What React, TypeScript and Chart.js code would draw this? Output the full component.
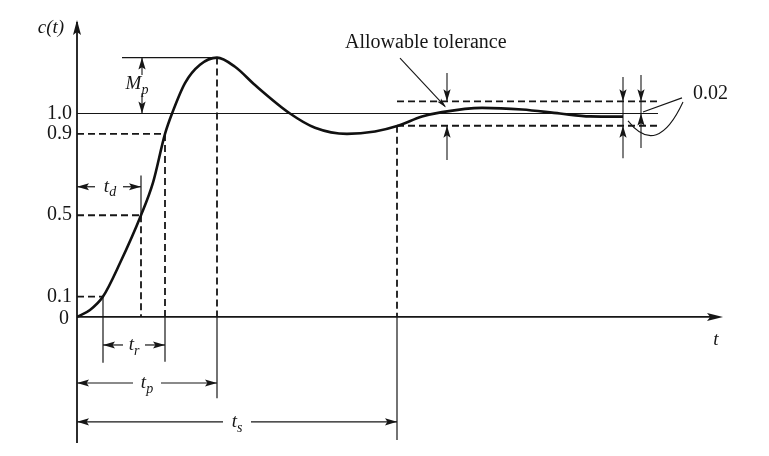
import React, { useEffect, useRef } from 'react';
import { Chart, registerables } from 'chart.js';
Chart.register(...registerables);

// ---- data ----
const TIME = [0, 0.26, 0.52, 0.86, 1.28, 1.52, 1.76, 1.9, 2.16, 2.46, 2.8, 3.16, 3.56, 4.26, 4.76, 5.4, 5.96, 6.42, 6.9, 7.3, 8.1, 8.9, 9.66, 10.26, 10.92];
const RESPONSE = [0, 0.034, 0.1, 0.265, 0.5, 0.66, 0.9, 1.0, 1.15, 1.24, 1.275, 1.23, 1.14, 1.0, 0.93, 0.9, 0.912, 0.94, 0.985, 1.007, 1.028, 1.02, 1.0, 0.986, 0.985];
const TICK_VALUES = [1.0, 0.9, 0.5, 0.1, 0];
const TICK_LABELS = ['1.0', '0.9', '0.5', '0.1', '0'];
const T_10 = 0.52;   // time at 10 %
const T_50 = 1.28;   // delay time
const T_90 = 1.76;   // time at 90 %
const T_PEAK = 2.8;
const PEAK = 1.275;
const T_SETTLE = 6.4;
const T_END = 10.92;
const BAND_HI = 1.06;
const BAND_LO = 0.94;
const TOL_LABEL = '0.02';
const TOL_TEXT = 'Allowable tolerance';

const SERIF = "'Liberation Serif', 'DejaVu Serif', serif";
const INK = '#161616';

const guides = {
  id: 'guides',
  beforeDatasetsDraw(chart: any) {
    const ctx = chart.ctx;
    const xs = chart.scales.x;
    const ys = chart.scales.y;
    const X = (t: number) => xs.getPixelForValue(t);
    const Y = (c: number) => ys.getPixelForValue(c);
    const line = (t1: number, c1: number, t2: number, c2: number, w = 1.2, dash: number[] = []) => {
      ctx.save();
      ctx.strokeStyle = INK;
      ctx.lineWidth = w;
      ctx.setLineDash(dash);
      ctx.beginPath();
      ctx.moveTo(X(t1), Y(c1));
      ctx.lineTo(X(t2), Y(c2));
      ctx.stroke();
      ctx.restore();
    };
    const head = (t: number, c: number, dx: number, dy: number, len = 12, half = 3.6) => {
      const x = X(t), y = Y(c);
      const px = -dy, py = dx;
      ctx.save();
      ctx.fillStyle = INK;
      ctx.beginPath();
      ctx.moveTo(x, y);
      ctx.lineTo(x - dx * len + px * half, y - dy * len + py * half);
      ctx.lineTo(x - dx * len * 0.8, y - dy * len * 0.8);
      ctx.lineTo(x - dx * len - px * half, y - dy * len - py * half);
      ctx.closePath();
      ctx.fill();
      ctx.restore();
    };
    const DASH = [7, 4];

    ctx.save();
    // axes
    line(0, ys.min, 0, ys.max - 0.01, 1.8);
    head(0, ys.max, 0, -1, 15, 4);
    line(0, 0, 12.8, 0, 1.8);
    head(12.92, 0, 1, 0, 16, 4);

    // steady state level
    line(0, 1.0, 11.62, 1.0, 1.1);

    // dashed level guides
    line(0, 0.9, T_90, 0.9, 1.8, DASH);
    line(0, 0.5, T_50, 0.5, 1.8, DASH);
    line(0, 0.1, T_10, 0.1, 1.8, DASH);

    // verticals
    line(T_10, 0.1, T_10, -0.226, 1.2);
    line(T_50, 0.695, T_50, 0.5, 1.2);
    line(T_50, 0.5, T_50, 0, 1.8, DASH);
    line(T_90, 0.9, T_90, 0, 1.8, DASH);
    line(T_90, 0, T_90, -0.22, 1.2);
    line(T_PEAK, PEAK, T_PEAK, 0, 1.8, DASH);
    line(T_PEAK, 0, T_PEAK, -0.4, 1.2);
    line(T_SETTLE, BAND_LO, T_SETTLE, 0, 1.8, DASH);
    line(T_SETTLE, 0, T_SETTLE, -0.605, 1.2);

    // tolerance band
    line(T_SETTLE, BAND_HI, 11.6, BAND_HI, 1.8, DASH);
    line(T_SETTLE, BAND_LO, 11.6, BAND_LO, 1.8, DASH);

    // peak overshoot
    line(0.9, PEAK, T_PEAK, PEAK, 1.1);
    line(1.3, 1.19, 1.3, PEAK, 1.1);
    head(1.3, PEAK, 0, -1);
    line(1.3, 1.1, 1.3, 1.0, 1.1);
    head(1.3, 1.0, 0, 1);

    // dimension arrows with label gap
    const dims: [number, number, number, string][] = [
      [0, T_50, 0.64, 'd'],
      [T_10, T_90, -0.138, 'r'],
      [0, T_PEAK, -0.325, 'p'],
      [0, T_SETTLE, -0.516, 's'],
    ];
    const dt = (px: number) => px / 50;
    dims.forEach(([a, b, c, s]) => {
      const mid = (a + b) / 2;
      const g = s === 'r' ? dt(11) : dt(14);
      line(a, c, mid - g, c, 1.2);
      line(mid + g, c, b, c, 1.2);
      head(a, c, -1, 0);
      head(b, c, 1, 0);
    });

    // allowable tolerance arrows
    line(7.4, 1.2, 7.4, BAND_HI, 1.1);
    head(7.4, BAND_HI, 0, 1);
    line(7.4, 0.772, 7.4, BAND_LO, 1.1);
    head(7.4, BAND_LO, 0, -1);
    line(6.46, 1.273, 7.36, 1.035, 1.1);
    head(7.38, 1.03, 0.68, 0.73, 10, 2.5);

    // right arrows
    line(T_END, 1.18, T_END, 0.78, 1.1);
    head(T_END, BAND_HI, 0, 1);
    head(T_END, BAND_LO, 0, -1);
    line(11.28, 1.19, 11.28, 0.83, 1.1);
    head(11.28, BAND_HI, 0, 1);
    head(11.28, 1.0, 0, -1);

    // 0.02 leaders
    line(12.1, 1.077, 11.32, 1.008, 1.1);
    ctx.strokeStyle = INK;
    ctx.lineWidth = 1.1;
    ctx.beginPath();
    ctx.moveTo(X(12.12), Y(1.057));
    ctx.quadraticCurveTo(X(11.6), Y(0.782), X(11.02), Y(0.964));
    ctx.stroke();
    ctx.restore();
  },
  afterDatasetsDraw(chart: any) {
    const ctx = chart.ctx;
    const xs = chart.scales.x;
    const ys = chart.scales.y;
    const X = (t: number) => xs.getPixelForValue(t);
    const Y = (c: number) => ys.getPixelForValue(c);
    ctx.save();
    ctx.fillStyle = INK;
    ctx.textBaseline = 'middle';
    const roman = `20px ${SERIF}`;
    const italic = `italic 19px ${SERIF}`;
    const italicSub = `italic 14px ${SERIF}`;

    // tick labels
    ctx.font = roman;
    ctx.textAlign = 'right';
    TICK_VALUES.forEach((v, i) => {
      ctx.fillText(TICK_LABELS[i], X(-0.1) + (v === 0 ? -3 : 0), Y(v) + (v === 0 ? 2 : 0));
    });

    // axis titles
    ctx.textAlign = 'center';
    ctx.font = italic;
    ctx.fillText('c(t)', X(-0.52), Y(1.42));
    ctx.fillText('t', X(12.78), Y(-0.113));

    const sub = (main: string, s: string, t: number, c: number) => {
      ctx.textAlign = 'left';
      ctx.font = italic;
      const w1 = ctx.measureText(main).width;
      ctx.font = italicSub;
      const w2 = ctx.measureText(s).width;
      const x0 = X(t) - (w1 + w2) / 2;
      ctx.font = italic;
      ctx.fillText(main, x0, Y(c));
      ctx.font = italicSub;
      ctx.fillText(s, x0 + w1, Y(c) + 6);
    };
    sub('M', 'p', 1.2, 1.145);
    sub('t', 'd', T_50 / 2 + 0.02, 0.64);
    sub('t', 'r', (T_10 + T_90) / 2, -0.138);
    sub('t', 'p', T_PEAK / 2, -0.325);
    sub('t', 's', T_SETTLE / 2, -0.516);

    ctx.font = roman;
    ctx.textAlign = 'left';
    ctx.fillText(TOL_TEXT, X(5.36), Y(1.347));
    ctx.fillText(TOL_LABEL, X(12.32), Y(1.096));
    ctx.restore();
  },
};

export default function App() {
  const ref = useRef<HTMLCanvasElement | null>(null);
  useEffect(() => {
    if (!ref.current) return;
    const chart = new Chart(ref.current, {
      type: 'scatter',
      data: {
        datasets: [
          {
            data: TIME.map((t, i) => ({ x: t, y: RESPONSE[i] })),
            showLine: true,
            borderColor: '#111',
            borderWidth: 2.6,
            pointRadius: 0,
            cubicInterpolationMode: 'monotone',
          } as any,
        ],
      },
      options: {
        animation: false,
        responsive: false,
        devicePixelRatio: 1,
        layout: { padding: { left: 77, right: 42, top: 20, bottom: 13 } },
        scales: {
          x: { type: 'linear', min: 0, max: 13, display: false },
          y: { type: 'linear', min: -0.62, max: 1.46, display: false },
        },
        plugins: { legend: { display: false }, tooltip: { enabled: false } },
      },
      plugins: [guides],
    });
    return () => chart.destroy();
  }, []);
  return (
    <div style={{ position: 'absolute', left: 0, top: 0, width: 769, height: 456, background: '#fff' }}>
      <canvas ref={ref} width={769} height={456} />
    </div>
  );
}
